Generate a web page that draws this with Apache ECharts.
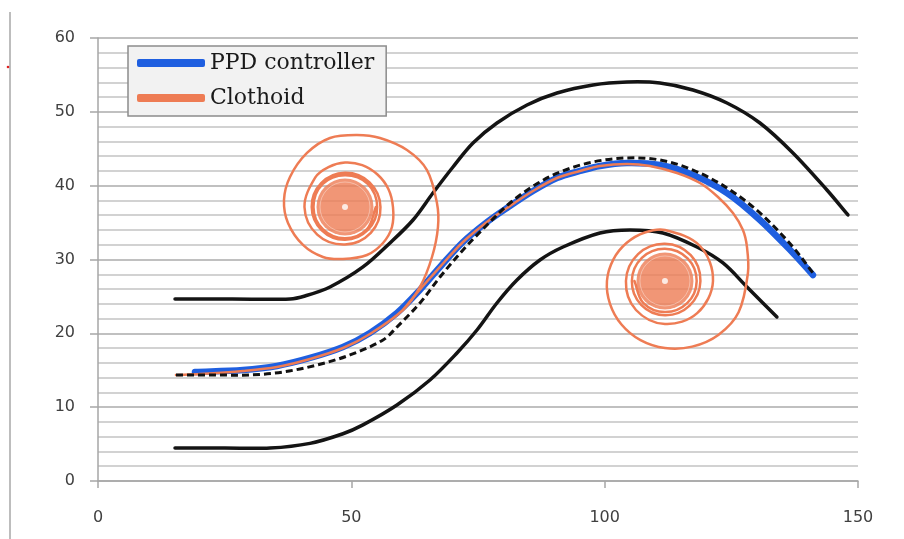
<!DOCTYPE html>
<html>
<head>
<meta charset="utf-8">
<script src="https://cdn.jsdelivr.net/npm/echarts@6/dist/echarts.min.js"></script>
<style>
  html, body { margin: 0; padding: 0; background: #fff; }
  #main { width: 904px; height: 539px; }
</style>
</head>
<body>
<div id="main"></div>
<script>
// road boundaries
var roadUpper = [[15.2,24.65],[26.5,24.65],[37.89,24.65],[40.85,25.06],[45.79,26.28],[52.3,28.99],[57.63,32.24],[62.17,35.35],[66.11,39.01],[70.06,42.53],[74.01,45.78],[78.74,48.49],[84.67,50.93],[90.59,52.55],[97.69,53.64],[104.4,54.04],[110.91,53.91],[117.43,52.96],[124.14,51.2],[130.65,48.49],[137.16,44.43],[143.87,39.41],[148.02,36.03]];
var roadLower = [[15.2,4.47],[25.0,4.47],[33.95,4.47],[41.84,5.1],[48.35,6.4],[52.3,7.6],[59.01,10.29],[65.52,13.68],[70.85,17.34],[74.8,20.45],[78.74,24.11],[82.69,27.22],[87.23,29.93],[91.77,31.69],[99.07,33.59],[104.99,34.0],[111.5,33.59],[118.21,31.69],[123.35,29.53],[128.09,26.28],[134.0,22.21]];
// reference centre line (dashed)
var centerLine = [[15.39,14.36],[23.0,14.36],[30.0,14.36],[36.51,14.76],[43.22,15.71],[49.73,17.07],[56.25,19.1],[59.01,20.86],[63.55,24.11],[67.5,27.63],[72.04,31.29],[76.77,34.67],[81.31,37.65],[86.24,40.09],[91.18,41.85],[97.69,43.21],[104.4,43.75],[110.91,43.48],[117.43,42.12],[124.14,39.69],[130.65,36.3],[137.16,31.69],[141.11,28.17]];
// PPD controller
var ppd = [[19.14,14.76],[28.62,15.03],[35.33,15.58],[41.84,16.66],[48.35,18.15],[53.68,20.05],[59.01,22.76],[62.96,25.46],[67.5,28.99],[72.04,32.37],[76.78,35.08],[80.72,36.98],[85.85,39.28],[90.59,41.04],[95.13,41.99],[99.07,42.67],[104.4,43.07],[110.91,42.8],[117.43,41.45],[124.14,39.01],[130.65,35.35],[137.16,30.88],[141.11,27.9]];
// clothoid 1: start of path then winding into left centre
var clothoidA = [[15.39,14.36],[20.13,14.49],[28.62,14.9],[35.33,15.44],[41.84,16.52],[48.35,18.01],[53.68,19.91],[60.19,23.16],[63.55,26.28],[65.92,30.34],[67.1,34.4],[66.9,37.65],[64.93,42.12],[60.98,44.83],[55.65,46.46],[51.11,46.86],[45.79,46.46],[41.25,44.43],[37.89,41.18],[36.71,38.06],[37.5,34.95],[40.46,31.97],[44.4,30.34],[48.35,30.07],[53.09,30.61],[56.25,32.24],[58.02,34.4],[58.22,37.11],[57.31,39.55],[55.16,41.51],[52.16,42.79],[48.75,43.14],[45.49,42.52],[42.89,41.12],[40.75,37.11],[43.27,33.37],[48.75,32.03],[53.84,33.62],[55.75,37.11],[53.59,40.44],[48.75,41.74],[44.05,40.34],[42.18,37.11],[44.16,33.95],[48.75,32.68],[53.27,34.01],[55.1,37.11],[53.19,40.27],[48.75,41.42],[44.36,40.23],[42.53,37.11],[44.37,34.1],[48.75,32.87],[53.09,34.13],[54.84,37.11]];
// clothoid 2: along the path then winding into right centre
var clothoidB = [[60.19,23.16],[62.96,25.46],[67.5,28.99],[72.04,32.37],[76.77,35.08],[80.72,36.98],[85.85,39.28],[90.59,41.04],[95.13,41.99],[99.07,42.67],[104.4,42.94],[108.94,42.67],[114.27,41.72],[118.81,40.36],[122.36,38.47],[125.32,36.3],[127.29,34.0],[128.09,31.69],[128.28,28.17],[126.43,22.85],[122.5,19.82],[117.27,18.2],[111.9,18.01],[107.07,19.08],[103.32,21.2],[101.05,24.0],[100.45,27.09],[101.7,29.99],[104.36,32.26],[107.93,33.66],[111.9,34.0],[118.81,31.83],[121.38,27.09],[118.26,22.73],[111.9,21.26],[106.18,23.16],[104.2,27.09],[106.59,30.73],[111.9,32.14],[116.99,30.58],[118.9,27.09],[116.76,23.76],[111.9,22.46],[107.2,23.87],[105.37,27.09],[107.34,30.22],[111.9,31.46],[116.36,30.15],[118.16,27.09],[116.28,24.08],[111.9,22.88],[107.6,24.14],[105.88,27.09]];
var spiralCenters = [[48.75,37.11],[111.9,27.09]];

var xTicks = [0, 50, 100, 150];
var yTicks = [0, 10, 20, 30, 40, 50, 60];

var ORANGE = '#EE7C54';
var BLUE = '#1F5FE0';

var myChart = echarts.init(document.getElementById('main'), null, { renderer: 'canvas' });

// smooth cubic through pixel points; handle length follows each segment's length
function smoothPath(pts) {
  function tangent(i) {
    var a = pts[i - 1] || pts[i], b = pts[i + 1] || pts[i];
    var dx = b[0] - a[0], dy = b[1] - a[1];
    var l = Math.sqrt(dx * dx + dy * dy) || 1;
    return [dx / l, dy / l];
  }
  var d = 'M' + pts[0][0] + ' ' + pts[0][1];
  for (var i = 0; i < pts.length - 1; i++) {
    var p1 = pts[i], p2 = pts[i + 1];
    var len = Math.sqrt(Math.pow(p2[0] - p1[0], 2) + Math.pow(p2[1] - p1[1], 2)) / 3;
    var t1 = tangent(i), t2 = tangent(i + 1);
    d += ' C' + (p1[0] + t1[0] * len) + ' ' + (p1[1] + t1[1] * len) + ' ' +
      (p2[0] - t2[0] * len) + ' ' + (p2[1] - t2[1] * len) + ' ' + p2[0] + ' ' + p2[1];
  }
  return d;
}

function curve(name, data, color, width, dash, z) {
  return {
    name: name, type: 'custom', data: data, z: z, silent: true,
    encode: { x: 0, y: 1 },
    itemStyle: { color: color },
    renderItem: function (params, api) {
      if (params.dataIndex !== 0) return null;
      var pts = data.map(function (d) { return api.coord(d); });
      return {
        type: 'path',
        shape: { pathData: smoothPath(pts) },
        style: { fill: null, stroke: color, lineWidth: width, lineDash: dash || null, lineCap: dash ? 'butt' : 'round', lineJoin: 'round' }
      };
    }
  };
}

var option = {
  animation: false,
  backgroundColor: '#fff',
  grid: { left: 98, right: 46, top: 38, bottom: 58 },
  legend: {
    data: ['PPD controller', 'Clothoid'],
    orient: 'vertical',
    left: 128, top: 46,
    icon: 'roundRect',
    itemWidth: 68, itemHeight: 8,
    itemGap: 13,
    padding: [6, 12, 7, 9],
    backgroundColor: '#f2f2f2',
    borderColor: '#8c8c8c',
    borderWidth: 1.5,
    textStyle: { fontFamily: 'DejaVu Serif', fontSize: 22, color: '#1a1a1a' }
  },
  xAxis: {
    type: 'value', min: xTicks[0], max: xTicks[xTicks.length - 1], interval: 50,
    axisLine: { lineStyle: { color: '#a6a6a6', width: 1.5 } },
    axisTick: { show: true, length: 7, lineStyle: { color: '#a6a6a6', width: 1.5 } },
    splitLine: { show: false },
    axisLabel: { margin: 29, fontFamily: 'DejaVu Sans', fontSize: 16, color: '#404040' }
  },
  yAxis: {
    type: 'value', min: yTicks[0], max: yTicks[yTicks.length - 1], interval: 10,
    axisLine: { show: true, lineStyle: { color: '#a6a6a6', width: 1.5 } },
    axisTick: { show: true, length: 8, lineStyle: { color: '#a6a6a6', width: 1.5 } },
    minorTick: { show: false, splitNumber: 5 },
    splitLine: { lineStyle: { color: '#ababab', width: 1.5 } },
    minorSplitLine: { show: true, lineStyle: { color: '#c4c4c4', width: 1.5 } },
    axisLabel: { margin: 23, fontFamily: 'DejaVu Sans', fontSize: 16, color: '#404040' }
  },
  series: [
    curve('roadUpper', roadUpper, '#141414', 3.5, null, 2),
    curve('roadLower', roadLower, '#141414', 3.5, null, 2),
    curve('PPD controller', ppd, BLUE, 6.5, null, 3),
    curve('Clothoid', clothoidA, ORANGE, 2.5, null, 4),
    curve('Clothoid', clothoidB, ORANGE, 2.5, null, 4),
    {
      name: 'core', type: 'scatter', data: spiralCenters, symbolSize: 57, silent: true,
      itemStyle: { color: ORANGE }, z: 4
    },
    {
      name: 'coreRing', type: 'scatter', data: spiralCenters, symbolSize: 50, silent: true,
      itemStyle: { color: 'rgba(0,0,0,0)', borderColor: 'rgba(255,255,255,0.45)', borderWidth: 1 }, z: 5
    },
    {
      name: 'coreDot', type: 'scatter', data: spiralCenters, symbolSize: 6, silent: true,
      itemStyle: { color: '#fff' }, z: 5
    },
    curve('Reference', centerLine, '#111111', 3, [7, 4], 5)
  ],
  graphic: [
    { type: 'line', shape: { x1: 10, y1: 12, x2: 10, y2: 539 }, style: { stroke: '#bdbdbd', lineWidth: 2 }, silent: true },
    { type: 'circle', shape: { cx: 8, cy: 67, r: 1.3 }, style: { fill: '#e02020' }, silent: true }
  ]
};

myChart.setOption(option);
window.addEventListener('resize', myChart.resize);
</script>
</body>
</html>
